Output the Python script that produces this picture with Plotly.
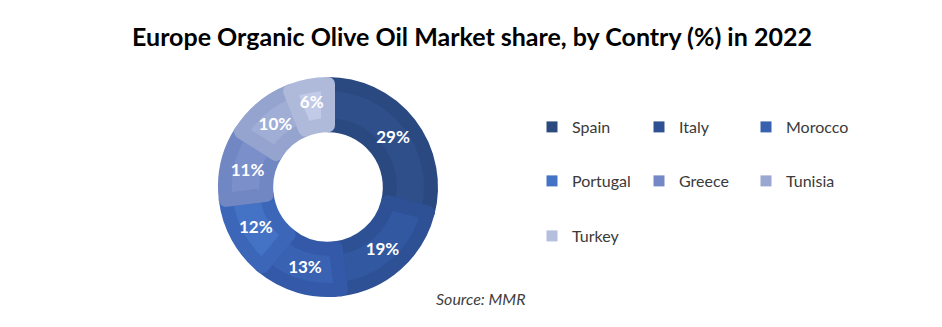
import plotly.graph_objects as go

countries = ["Spain", "Italy", "Morocco", "Portugal", "Greece", "Tunisia", "Turkey"]
shares = [29, 19, 13, 12, 11, 10, 6]
fill_colors = ["#2f4f8b", "#3158a0", "#3a62b3", "#4472c4", "#7b8fcb", "#a0aed6", "#c1cae6"]
frame_colors = ["#2a4981", "#2e5196", "#3459a8", "#3c66b8", "#7087c4", "#95a4cf", "#afbadb"]
legend_colors = ["#2b4a80", "#2f5194", "#3760ae", "#4472c4", "#7388c5", "#99a7d1", "#b4bedd"]
legend_rows = [1, 1, 1, 2, 2, 2, 3]

W, H = 942, 327
cx, cy = 328, 187
R = 103

fig = go.Figure()
fig.add_trace(go.Pie(
    labels=countries, values=shares, sort=False, direction="clockwise", rotation=0,
    hole=0.60,
    marker=dict(colors=fill_colors, line=dict(color=frame_colors, width=14)),
    texttemplate="%{value}%", textposition="inside", insidetextorientation="horizontal",
    textfont=dict(family="Lato", size=17, color="white", weight="bold"),
    domain=dict(x=[(cx - R) / W, (cx + R) / W], y=[(H - cy - R) / H, (H - cy + R) / H]),
    showlegend=False, hoverinfo="label+percent",
))

legend_names = {1: "legend", 2: "legend2", 3: "legend3"}
for name, col, row in zip(countries, legend_colors, legend_rows):
    fig.add_trace(go.Scatter(
        x=[None], y=[None], mode="markers", name=name,
        marker=dict(symbol="square", size=11, color=col),
        legend=legend_names[row], showlegend=True,
    ))

row_y = {1: 127, 2: 181, 3: 236}
leg_common = dict(orientation="h", xanchor="left", yanchor="middle", entrywidth=62,
                  entrywidthmode="pixels", itemwidth=30, bgcolor="rgba(0,0,0,0)",
                  font=dict(family="Lato", size=16, color="#3a3a3a"), tracegroupgap=0)
lx = (552 - 20) / W
fig.update_layout(
    width=W, height=H, margin=dict(l=0, r=0, t=0, b=0),
    paper_bgcolor="white", plot_bgcolor="white",
    xaxis=dict(visible=False), yaxis=dict(visible=False),
    legend=dict(x=lx, y=1 - row_y[1] / H, **leg_common),
    legend2=dict(x=lx, y=1 - row_y[2] / H, **leg_common),
    legend3=dict(x=lx, y=1 - row_y[3] / H, **leg_common),
    title=dict(text="<b>Europe Organic Olive Oil Market share, by Contry (%) in 2022</b>",
               x=472 / W, xanchor="center", y=1 - 37 / H, yanchor="middle",
               font=dict(family="Lato", size=25, color="black")),
    annotations=[dict(text="<i>Source: MMR</i>", x=480 / W, y=1 - 298 / H, xref="paper", yref="paper",
                      xanchor="center", yanchor="middle", showarrow=False,
                      font=dict(family="Lato", size=16, color="#404040"))],
)
fig.write_html("out.html")
